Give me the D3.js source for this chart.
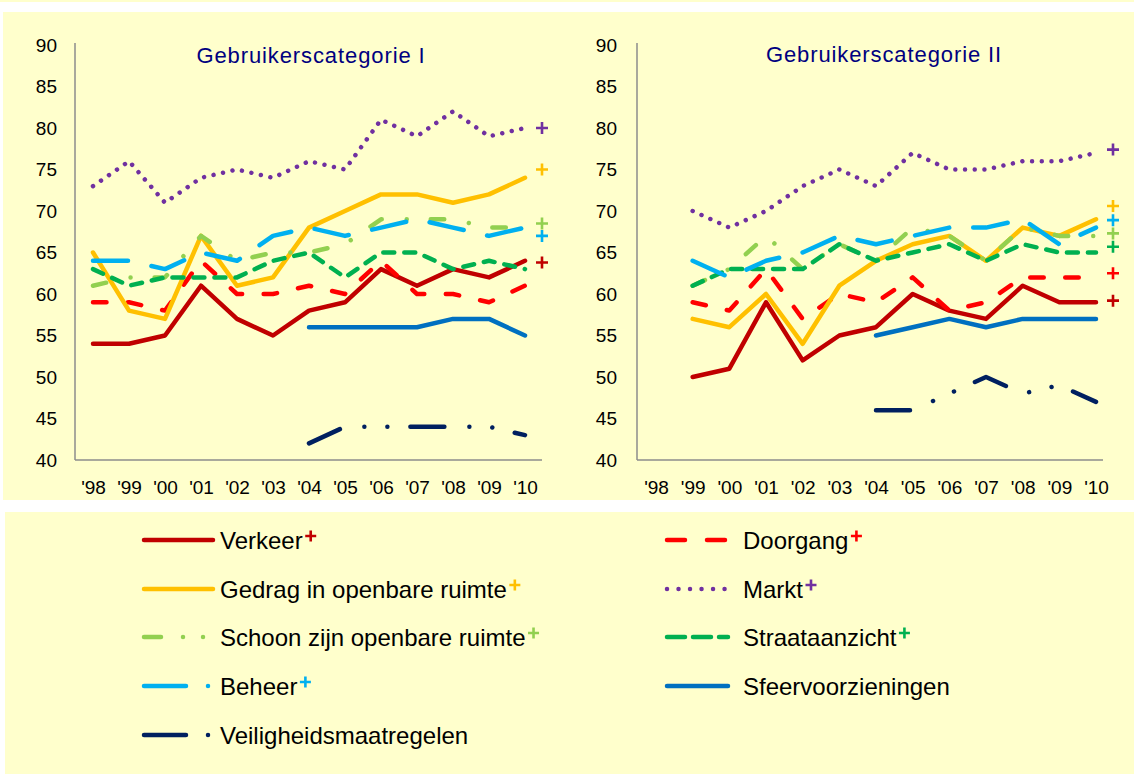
<!DOCTYPE html>
<html><head><meta charset="utf-8">
<script src="https://cdn.jsdelivr.net/npm/d3@7"></script>
<style>body{margin:0;background:#fff}svg{display:block;font-family:"Liberation Sans",Arial,sans-serif}</style>
</head><body><svg id="c" width="1134" height="774"></svg>
<script>
// ---------- data ----------
const years = ["'98","'99","'00","'01","'02","'03","'04","'05","'06","'07","'08","'09","'10"];
const yTicks = [40,45,50,55,60,65,70,75,80,85,90];
const titles = ["Gebruikerscategorie I","Gebruikerscategorie II"];
const seriesNames = ["Verkeer","Doorgang","Gedrag in openbare ruimte","Markt","Schoon zijn openbare ruimte","Straataanzicht","Beheer","Sfeervoorzieningen","Veiligheidsmaatregelen"];
const seriesPlus = [true,true,true,true,true,true,true,false,false];
const N = null;
// Gebruikerscategorie I
const cat1Verkeer  = [54,54,55,61,57,55,58,59,63,61,63,62,64];
const cat1Doorgang = [59,59,58,64,60,60,61,60,64,60,60,59,61];
const cat1Gedrag   = [65,58,57,67,61,62,68,70,72,72,71,72,74];
const cat1Markt    = [73,76,71,74,75,74,76,75,81,79,82,79,80];
const cat1Schoon   = [61,62,62,67,64,65,65,66,69,69,69,68,68];
const cat1Straat   = [63,61,62,62,62,64,65,62,65,65,63,64,63];
const cat1Beheer   = [64,64,63,65,64,67,68,67,68,69,68,67,68];
const cat1Sfeer    = [N,N,N,N,N,N,56,56,56,56,57,57,55];
const cat1Veilig   = [N,N,N,N,N,N,42,44,44,44,44,44,43];
// Gebruikerscategorie II
const cat2Verkeer  = [N,50,51,59,52,55,56,60,58,57,61,59,59];
const cat2Doorgang = [N,59,58,63,57,60,59,62,58,59,62,62,62];
const cat2Gedrag   = [N,57,56,60,54,61,64,66,67,64,68,67,69];
const cat2Markt    = [N,70,68,70,73,75,73,77,75,75,76,76,77];
const cat2Schoon   = [N,61,63,67,63,66,64,68,67,64,68,67,67];
const cat2Straat   = [N,61,63,63,63,66,64,65,66,64,66,65,65];
const cat2Beheer   = [N,64,62,64,65,67,66,67,68,68,69,66,68];
const cat2Sfeer    = [N,N,N,N,N,N,55,56,57,56,57,57,57];
const cat2Veilig   = [N,N,N,N,N,N,46,46,48,50,48,49,47];
// "+" markers at the right end (series index, value level)
const cat1PlusSeries = [3,2,4,6,0];
const cat1PlusLevel  = [80,75,68.5,67,63.8];
const cat2PlusSeries = [3,2,6,4,5,1,0];
const cat2PlusLevel  = [77.4,70.6,68.9,67.3,65.7,62.5,59.2];

// ---------- styles ----------
const colors = ["#C00000","#FF0000","#FFC000","#7030A0","#92D050","#00B050","#00B0F0","#0070C0","#002060"];
const dashes = [null,"13.5,21.5",null,"0.01,9.7","13.5,25,0.01,24","11,10","35,24",null,"34,25,0.01,23,0.01,23"];
const legendDashes = [null,"18,22",null,"0.01,11.5","17,22,0.01,20,0.01,60","18,8","42,22,0.01,60",null,"42,22,0.01,60"];
const BG = "#FFFFCC", LW = 4.5;

const svg = d3.select("#c");
svg.append("rect").attr("x",0).attr("y",0).attr("width",1134).attr("height",2).attr("fill",BG);
svg.append("rect").attr("x",3).attr("y",12).attr("width",1131).attr("height",488).attr("fill",BG);
svg.append("rect").attr("x",5).attr("y",512).attr("width",1129).attr("height",262).attr("fill",BG);

const panels = [
  {title:titles[0], series:[cat1Verkeer,cat1Doorgang,cat1Gedrag,cat1Markt,cat1Schoon,cat1Straat,cat1Beheer,cat1Sfeer,cat1Veilig],
   plusS:cat1PlusSeries, plusL:cat1PlusLevel, x0:75, x1:542, first:93, last:525, plusX:542, labR:57, titleX:311, titleY:63},
  {title:titles[1], series:[cat2Verkeer,cat2Doorgang,cat2Gedrag,cat2Markt,cat2Schoon,cat2Straat,cat2Beheer,cat2Sfeer,cat2Veilig],
   plusS:cat2PlusSeries, plusL:cat2PlusLevel, x0:637, x1:1103, first:656, last:1096, plusX:1113, labR:617, titleX:884, titleY:62}
];

function plus(g, cx, cy, size, color, w){
  g.append("path").attr("d",`M${cx-size/2},${cy}H${cx+size/2}M${cx},${cy-size/2}V${cy+size/2}`)
   .attr("stroke",color).attr("stroke-width",w).attr("fill","none");
}

panels.forEach(p=>{
  const g = svg.append("g");
  const x = d3.scalePoint().domain(years).range([p.first,p.last]);
  const y = d3.scaleLinear().domain([40,90]).range([460,45]);

  const ax = g.append("g").attr("transform","translate(0,460)")
    .call(d3.axisBottom(x).tickSize(0).tickPadding(20.5));
  ax.select(".domain").remove();
  const ay = g.append("g").attr("transform",`translate(${p.x0},0)`)
    .call(d3.axisLeft(y).tickValues(yTicks).tickSize(0).tickPadding(p.x0-p.labR));
  ay.select(".domain").remove();
  g.selectAll(".tick text").attr("font-size",19).attr("fill","#000")
    .attr("font-family","'Liberation Sans',Arial,sans-serif");
  g.append("line").attr("x1",p.x0).attr("x2",p.x0).attr("y1",y(90)-2).attr("y2",460)
    .attr("stroke","#8c8c8c").attr("stroke-width",1.5);
  g.append("line").attr("x1",p.x0).attr("x2",p.x1).attr("y1",460).attr("y2",460)
    .attr("stroke","#8c8c8c").attr("stroke-width",1.5);

  g.append("text").attr("x",p.titleX).attr("y",p.titleY).attr("text-anchor","middle")
    .attr("font-size",22).attr("letter-spacing","0.9px").attr("fill","#000080").text(p.title);

  const line = d3.line().defined(d=>d.v!==null).x(d=>x(d.k)).y(d=>y(d.v));
  p.series.forEach((vals,i)=>{
    const pts = vals.map((v,j)=>({k:years[j],v:v}));
    g.append("path").datum(pts).attr("d",line).attr("fill","none")
      .attr("stroke",colors[i]).attr("stroke-width",LW)
      .attr("stroke-linecap","round").attr("stroke-linejoin","round")
      .attr("stroke-dasharray",dashes[i]);
  });
  p.plusS.forEach((si,k)=>plus(g,p.plusX,y(p.plusL[k]),12,colors[si],2.6));
});

// ---------- legend ----------
const lg = svg.append("g");
const rowY = [540,589,637,686,735];
const colX = [{l0:144,l1:213,t:220},{l0:667,l1:728,t:743}];
seriesNames.forEach((name,i)=>{
  const col = colX[i%2], ry = rowY[Math.floor(i/2)];
  lg.append("line").attr("x1",col.l0).attr("x2",col.l1).attr("y1",ry).attr("y2",ry)
    .attr("stroke",colors[i]).attr("stroke-width",LW).attr("stroke-linecap","round")
    .attr("stroke-dasharray",legendDashes[i]);
  const t = lg.append("text").attr("x",col.t).attr("y",ry+8.5).attr("font-size",24)
    .attr("fill","#000").text(name);
  if(seriesPlus[i]){
    const w = t.node().getComputedTextLength();
    plus(lg,col.t+w+8,ry-4,11,colors[i],2.6);
  }
});
</script></body></html>
